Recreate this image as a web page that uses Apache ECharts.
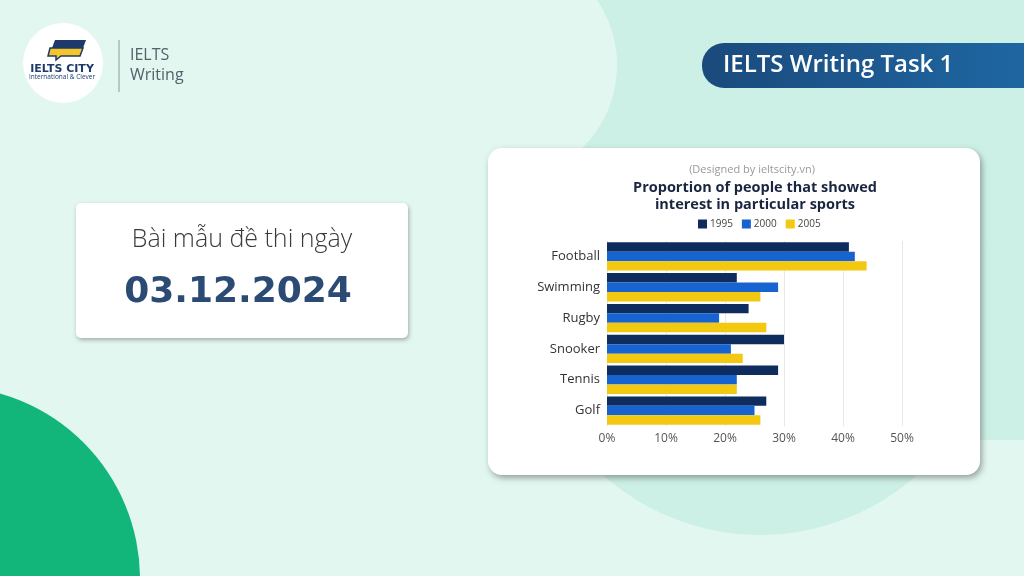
<!DOCTYPE html>
<html>
<head>
<meta charset="utf-8">
<script src="https://cdn.jsdelivr.net/npm/echarts@6/dist/echarts.min.js"></script>
<style>
html,body{margin:0;padding:0;background:#e3f7f1;}
#c{width:1024px;height:576px;}
</style>
</head>
<body>
<div id="c"></div>
<script>
const categories = ['Football', 'Swimming', 'Rugby', 'Snooker', 'Tennis', 'Golf'];
const years = ['1995', '2000', '2005'];
const values1995 = [41, 22, 24, 30, 29, 27];
const values2000 = [42, 29, 19, 21, 22, 25];
const values2005 = [44, 26, 27, 23, 22, 26];
const xTicks = [0, 10, 20, 30, 40, 50];
const colors = ['#0f2c5e', '#1763d0', '#f2c811'];

const FONT = '"Open Sans", "Noto Sans", sans-serif';
const chart = echarts.init(document.getElementById('c'), null, {renderer: 'canvas'});

const seriesValues = [values1995, values2000, values2005];

const graphics = [
  // background shapes
  {type: 'rect', z: -10, shape: {x: 0, y: 0, width: 1024, height: 576}, style: {fill: '#e3f7f1'}},
  {type: 'rect', z: -9, shape: {x: 560, y: 0, width: 464, height: 440}, style: {fill: '#cdf0e6'}},
  {type: 'circle', z: -9, shape: {cx: 760, cy: 300, r: 235}, style: {fill: '#cdf0e6'}},
  {type: 'circle', z: -8, shape: {cx: 501, cy: 65, r: 116}, style: {fill: '#e3f7f1'}},
  {type: 'circle', z: -7, shape: {cx: -53, cy: 579, r: 193}, style: {fill: '#12b67b'}},
  // logo
  {type: 'circle', z: -5, shape: {cx: 63, cy: 63, r: 40}, style: {fill: '#ffffff'}},
  {type: 'polygon', z: -4, shape: {points: [[55, 40], [86, 40], [83, 48], [52, 48]]}, style: {fill: '#1d3a6b'}},
  {type: 'polygon', z: -4, shape: {points: [[50, 48], [83, 48], [80, 56], [61, 56], [56, 60], [56, 56], [48, 56]]}, style: {fill: '#f4c62a', stroke: '#1d3a6b', lineWidth: 1.5}},
  {type: 'text', z: -4, style: {x: 62, y: 69, text: 'IELTS CITY', align: 'center', verticalAlign: 'middle', font: 'bold 11px "DejaVu Sans", ' + FONT, fill: '#1d3a6b'}},
  {type: 'text', z: -4, style: {x: 62, y: 77, text: 'International & Clever', align: 'center', verticalAlign: 'middle', font: '6.5px ' + FONT, fill: '#1d3a6b'}},
  {type: 'line', z: -4, shape: {x1: 119, y1: 40, x2: 119, y2: 92}, style: {stroke: '#8a9a98', lineWidth: 1}},
  {type: 'text', z: -4, style: {x: 130, y: 55, text: 'IELTS', verticalAlign: 'middle', font: '16px ' + FONT, fill: '#55606a'}},
  {type: 'text', z: -4, style: {x: 130, y: 75, text: 'Writing', verticalAlign: 'middle', font: '16px ' + FONT, fill: '#55606a'}},
  // banner
  {type: 'rect', z: -4, shape: {x: 702, y: 43, width: 360, height: 45, r: [22, 0, 0, 22]},
   style: {fill: {type: 'linear', x: 0, y: 0, x2: 1, y2: 0, colorStops: [{offset: 0, color: '#1b4a7c'}, {offset: 1, color: '#1f6aa6'}]}}},
  {type: 'text', z: -3, style: {x: 723, y: 65, text: 'IELTS Writing Task 1', verticalAlign: 'middle', font: '600 24px ' + FONT, fill: '#ffffff'}},
  // left card
  {type: 'rect', z: -4, shape: {x: 76, y: 203, width: 332, height: 135, r: 5},
   style: {fill: '#ffffff', shadowBlur: 4, shadowOffsetX: 1, shadowOffsetY: 2, shadowColor: 'rgba(0,0,0,0.3)'}},
  {type: 'text', z: -3, style: {x: 242, y: 240, text: 'Bài mẫu đề thi ngày', align: 'center', verticalAlign: 'middle', font: '300 25px ' + FONT, fill: '#3a3a3a'}},
  {type: 'text', z: -3, style: {x: 238, y: 293, text: '03.12.2024', align: 'center', verticalAlign: 'middle', font: 'bold 36px "DejaVu Sans", ' + FONT, fill: '#2b4a74'}},
  // chart card
  {type: 'rect', z: -4, shape: {x: 488, y: 148, width: 492, height: 327, r: 14},
   style: {fill: '#ffffff', shadowBlur: 6, shadowOffsetX: 2, shadowOffsetY: 3, shadowColor: 'rgba(0,0,0,0.35)'}},
  {type: 'text', z: -3, style: {x: 752, y: 170, text: '(Designed by ieltscity.vn)', align: 'center', verticalAlign: 'middle', font: '11px ' + FONT, fill: '#9a9a9a'}},
  {type: 'text', z: -3, style: {x: 755, y: 188, text: 'Proportion of people that showed', align: 'center', verticalAlign: 'middle', font: 'bold 14.5px ' + FONT, fill: '#1a2540'}},
  {type: 'text', z: -3, style: {x: 755, y: 205, text: 'interest in particular sports', align: 'center', verticalAlign: 'middle', font: 'bold 14.5px ' + FONT, fill: '#1a2540'}}
];

const option = {
  animation: false,
  backgroundColor: '#e3f7f1',
  graphic: {elements: graphics},
  legend: {
    data: years,
    left: 698, top: 219,
    icon: 'rect', itemWidth: 9, itemHeight: 9, itemGap: 9, padding: 0,
    textStyle: {fontSize: 10, color: '#444', fontFamily: FONT, padding: [0, 0, 0, -2]}
  },
  grid: {left: 607, right: 122, top: 241, bottom: 150, containLabel: false},
  xAxis: {
    type: 'value', min: xTicks[0], max: xTicks[xTicks.length - 1], interval: 10,
    axisLine: {show: false}, axisTick: {show: false},
    splitLine: {show: true, lineStyle: {color: '#e8e8e8', width: 1}},
    axisLabel: {formatter: '{value}%', fontSize: 12, color: '#555', fontFamily: FONT, margin: 7}
  },
  yAxis: {
    type: 'category', data: categories, inverse: true,
    axisLine: {show: false}, axisTick: {show: false},
    axisLabel: {fontSize: 13, color: '#333', fontFamily: FONT, margin: 7}
  },
  series: years.map((y, i) => ({
    name: y, type: 'bar', data: seriesValues[i],
    itemStyle: {color: colors[i]},
    barGap: '0%', barCategoryGap: '8%'
  }))
};
chart.setOption(option);
</script>
</body>
</html>
